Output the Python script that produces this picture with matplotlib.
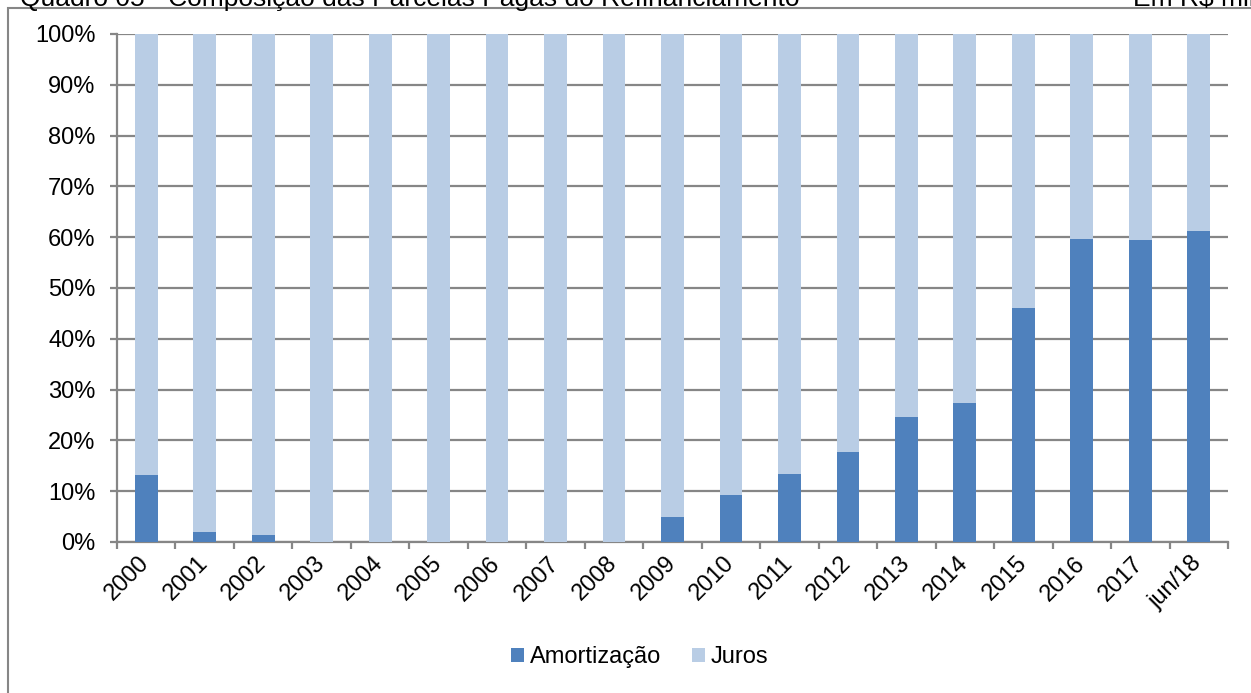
import matplotlib
matplotlib.use("Agg")
import matplotlib.pyplot as plt
from matplotlib.patches import Rectangle
import numpy as np

plt.rcParams['font.family'] = ['Liberation Sans', 'DejaVu Sans']

categories = ["2000", "2001", "2002", "2003", "2004", "2005", "2006", "2007", "2008",
              "2009", "2010", "2011", "2012", "2013", "2014", "2015", "2016", "2017", "jun/18"]
amortizacao = [13.1, 2.0, 1.4, 0.0, 0.0, 0.0, 0.0, 0.0, 0.0,
               5.0, 9.2, 13.4, 17.8, 24.7, 27.4, 46.1, 59.7, 59.4, 61.2]
juros = [100 - a for a in amortizacao]
yticks = [0, 10, 20, 30, 40, 50, 60, 70, 80, 90, 100]
ytick_labels = [f"{v}%" for v in yticks]
title_left = "Quadro 05 - Composição das Parcelas Pagas do Refinanciamento"
title_right = "Em R$ mil"
series_names = ["Amortização", "Juros"]

W, H = 1251, 693
fig = plt.figure(figsize=(W / 100, H / 100), dpi=100)
ax = fig.add_axes([117 / W, 1 - 542 / H, (1228 - 117) / W, (542 - 34) / H])

dark = "#4F81BD"
light = "#B9CDE5"
grid = "#868686"
fs = 17

x = np.arange(len(categories))
b1 = ax.bar(x, amortizacao, width=0.39, color=dark, label=series_names[0], zorder=3)
b2 = ax.bar(x, juros, width=0.39, bottom=amortizacao, color=light, label=series_names[1], zorder=3)

ax.set_xlim(-0.5, len(categories) - 0.5)
ax.set_ylim(0, 100)
ax.set_yticks(yticks)
ax.set_yticklabels(ytick_labels, fontsize=fs)
ax.yaxis.grid(True, color=grid, lw=1.6)
ax.set_axisbelow(True)

ax.set_xticks(x)
ax.set_xticklabels(categories, fontsize=fs, rotation=45, ha='right', va='center',
                   rotation_mode='anchor')
ax.set_xticks(np.arange(-0.5, len(categories), 1.0), minor=True)
ax.tick_params(axis='x', which='major', length=0, pad=13)
ax.tick_params(axis='x', which='minor', length=5, width=1.6, color=grid, direction='out')
ax.tick_params(axis='y', length=5, width=1.6, color=grid, direction='out', pad=10.5)

for s in ['top', 'right']:
    ax.spines[s].set_visible(False)
for s in ['left', 'bottom']:
    ax.spines[s].set_color(grid)
    ax.spines[s].set_linewidth(1.6)

leg = fig.legend(handles=[b1, b2], labels=series_names, loc='center',
                 bbox_to_anchor=(640 / W, 1 - 657 / H), ncol=2, frameon=False,
                 fontsize=fs, handlelength=0.55, handleheight=0.55,
                 handletextpad=0.25, columnspacing=1.3)

fig.add_artist(Rectangle((8 / W, -0.1), 1.2, (1 - 8 / H) + 0.1, transform=fig.transFigure,
                         fill=False, edgecolor=grid, lw=1.5))

fig.text(20 / W, 1 - 6 / H, title_left, fontsize=19, ha='left', va='baseline')
fig.text(1133 / W, 1 - 6 / H, title_right, fontsize=19, ha='left', va='baseline')

fig.savefig("out.png", dpi=100)
